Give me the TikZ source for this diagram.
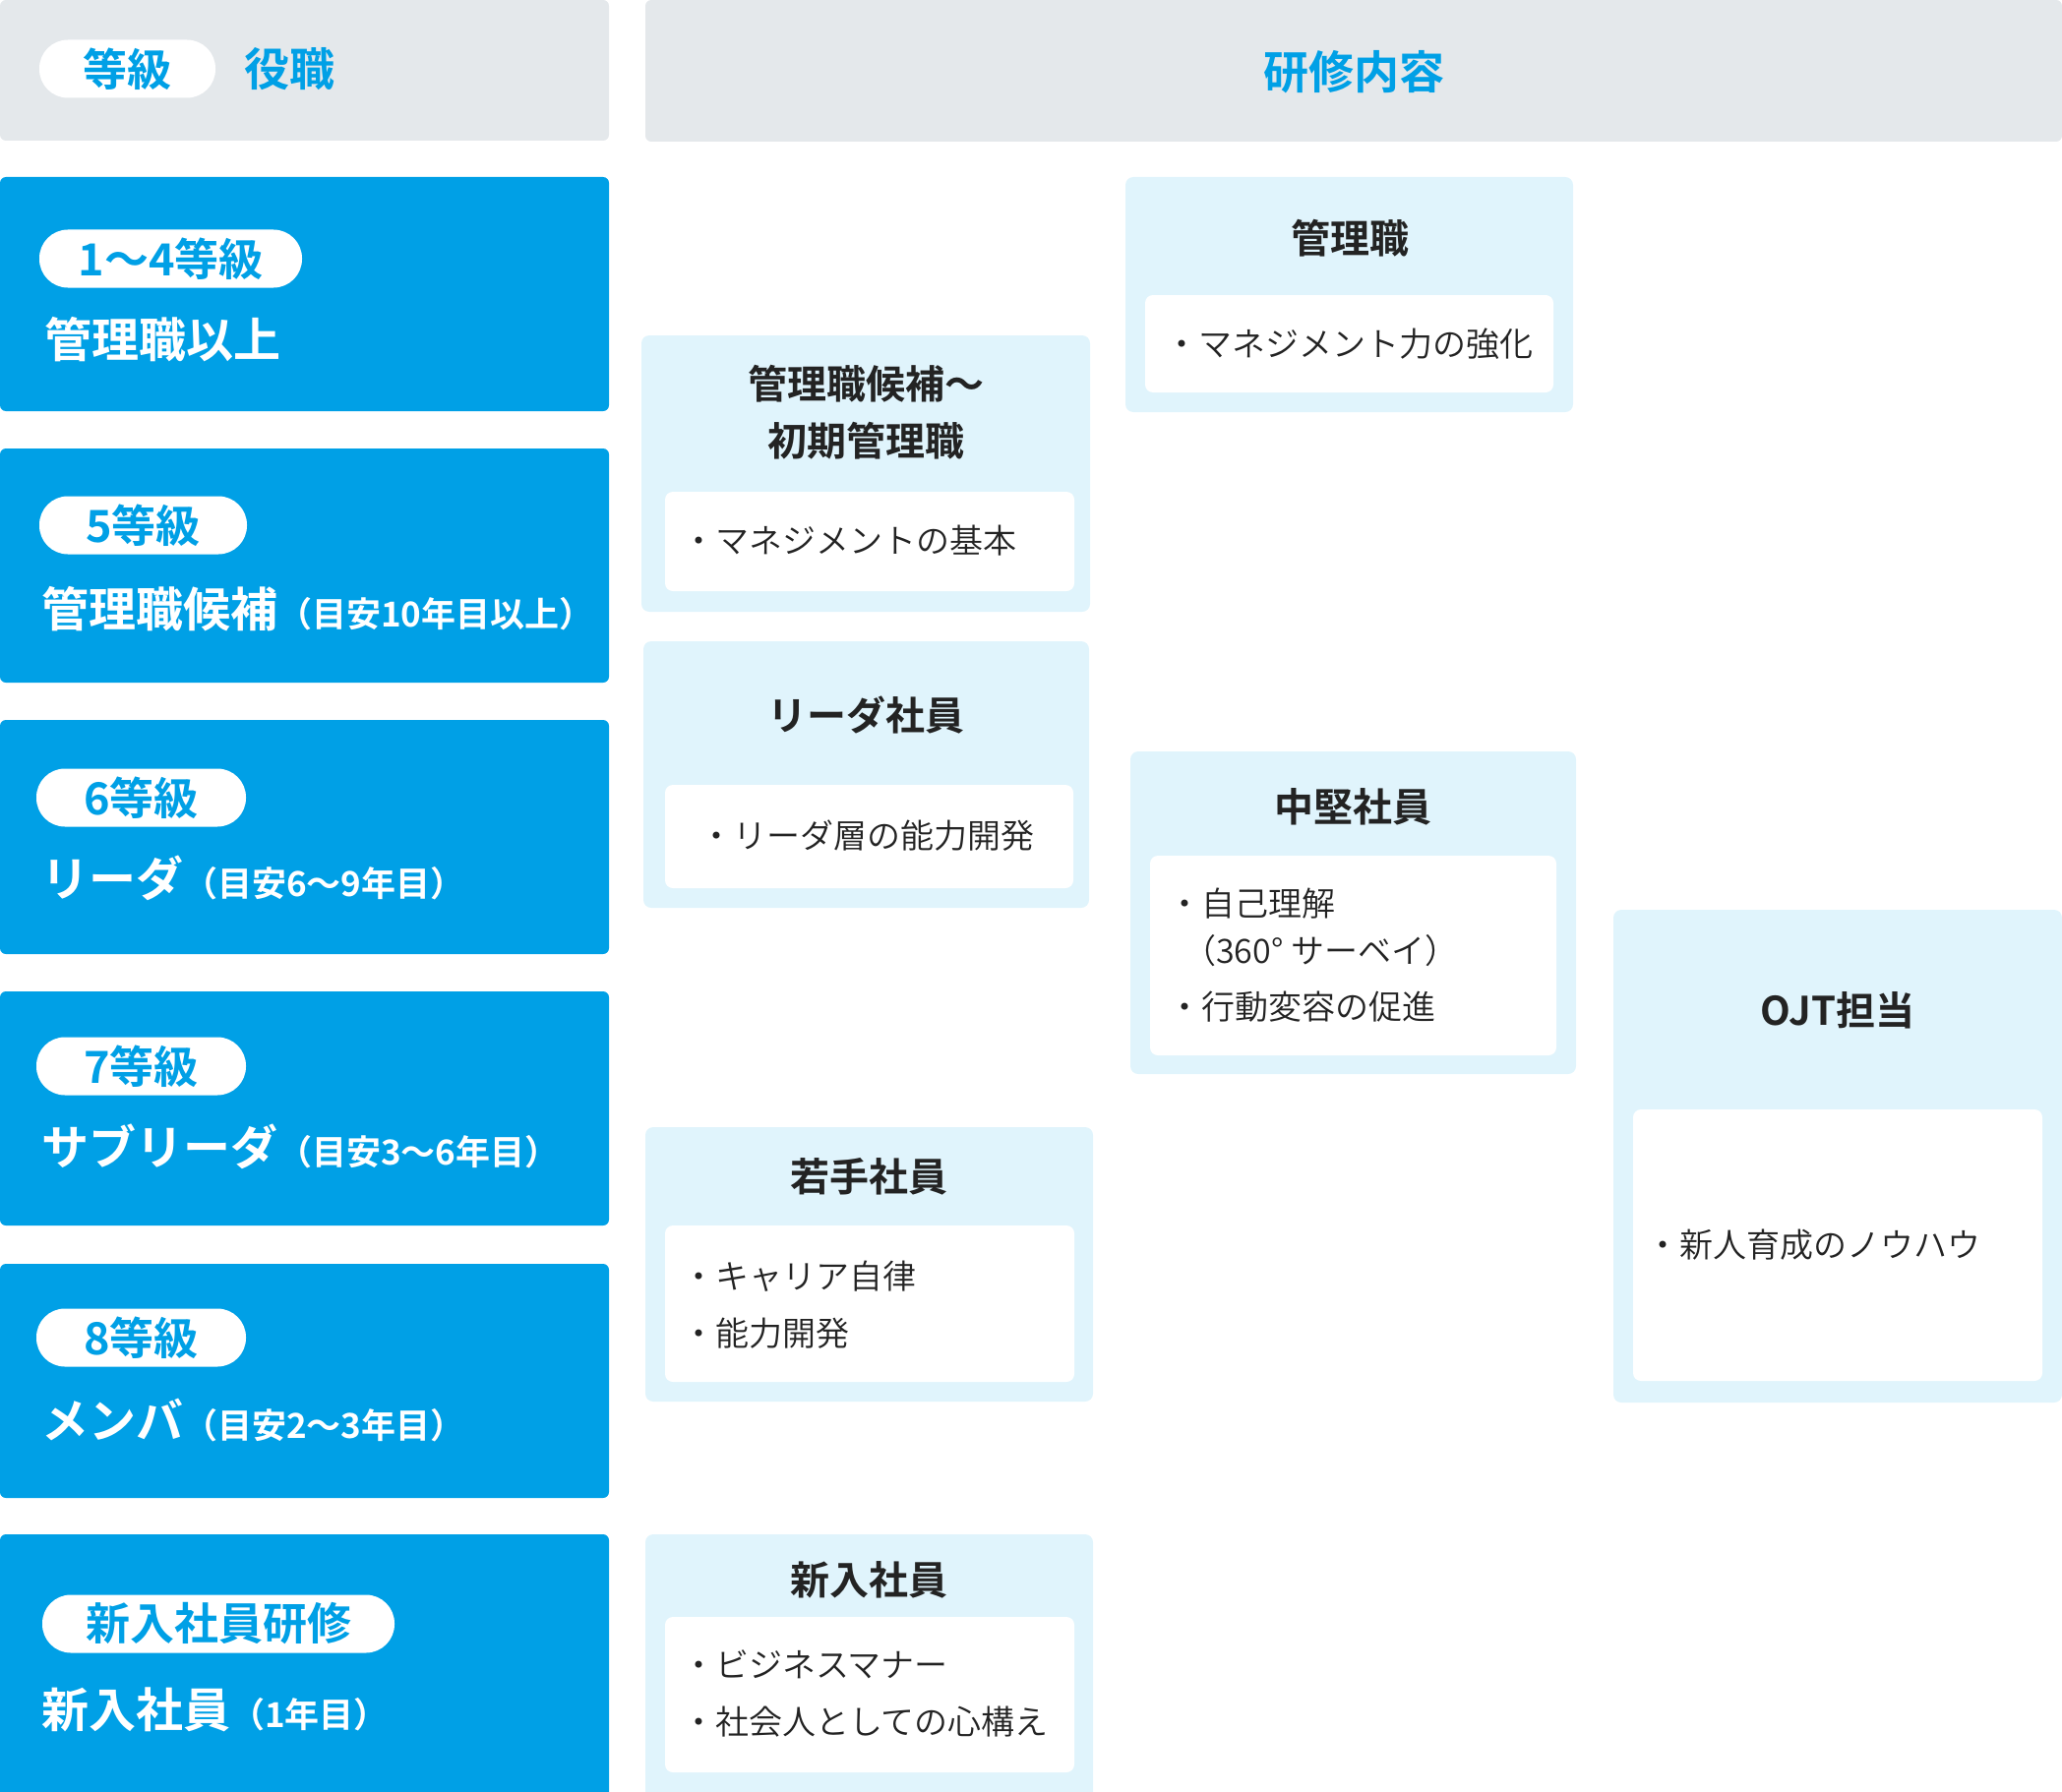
\documentclass[tikz,border=0pt]{standalone}
\usepackage{fontspec}
\setmainfont{Noto Sans CJK JP}[BoldFont={Noto Sans CJK JP Bold}]
\newfontfamily\lightjp{Noto Sans CJK JP DemiLight}
\usetikzlibrary{positioning}

\definecolor{gradeblue}{RGB}{0,160,230}
\definecolor{hdrgray}{RGB}{228,232,235}
\definecolor{coursebg}{RGB}{224,244,252}
\definecolor{ink}{RGB}{35,35,35}

\newcommand\yrs[1]{{\fontsize{35}{35}\selectfont #1}}

\begin{document}
\begin{tikzpicture}[
    x=1pt, y=-1pt,
    every node/.style={inner sep=0pt, outer sep=0pt},
    hdrbox/.style={fill=hdrgray, rounded corners=6pt, anchor=north west},
    gradebox/.style={fill=gradeblue, rounded corners=6pt, anchor=north west, minimum width=619pt, minimum height=238pt},
    pill/.style={fill=white, rounded corners=29pt, minimum height=59pt, anchor=west, text=gradeblue, font=\fontsize{45}{45}\selectfont\bfseries},
    role/.style={anchor=west, text=white, font=\fontsize{48}{48}\selectfont\bfseries},
    coursebox/.style={fill=coursebg, rounded corners=8pt, anchor=north west},
    itembox/.style={fill=white, rounded corners=8pt, anchor=north west},
    coursetitle/.style={text=ink, align=center, font=\fontsize{40}{58}\selectfont\bfseries},
    item/.style={anchor=west, text=ink, align=left, font=\lightjp\fontsize{34}{58}\selectfont}
]
\useasboundingbox (0,0) rectangle (2096,1822);
\clip (0,0) rectangle (2096,1822);

% Header
\node[hdrbox, minimum width=619pt, minimum height=143pt] (hdrleft) at (0,0) {};
\node[hdrbox, minimum width=1440pt, minimum height=144pt] (hdrright) at (656,0) {};
\node[pill, minimum width=179pt] (hdrgrade) at (40,70) {等級};
\node[anchor=west, text=gradeblue, font=\fontsize{46}{46}\selectfont\bfseries] (hdrrole) at (248,70) {役職};
\node[text=gradeblue, font=\fontsize{46}{46}\selectfont\bfseries] (hdrcourse) at (1376,73) {研修内容};

% Grades
\node[gradebox] (g1) at (0,180) {};
\node[gradebox] (g2) at (0,456) {};
\node[gradebox] (g3) at (0,732) {};
\node[gradebox] (g4) at (0,1008) {};
\node[gradebox] (g5) at (0,1285) {};
\node[gradebox, minimum height=280pt] (g6) at (0,1560) {};

\node[pill, minimum width=267pt] (p1) at (40,263) {1〜4等級};
\node[pill, minimum width=211pt] (p2) at (40,534) {5等級};
\node[pill, minimum width=213pt] (p3) at (37,811) {6等級};
\node[pill, minimum width=213pt] (p4) at (37,1084) {7等級};
\node[pill, minimum width=213pt] (p5) at (37,1360) {8等級};
\node[pill, minimum width=358pt] (p6) at (43,1651) {新入社員研修};

\node[role] (r1) at (45,345) {管理職以上};
\node[role] (r2) at (42,619) {管理職候補\yrs{（目安10年目以上）}};
\node[role] (r3) at (42,893) {リーダ\yrs{（目安6〜9年目）}};
\node[role] (r4) at (42,1166) {サブリーダ\yrs{（目安3〜6年目）}};
\node[role] (r5) at (42,1444) {メンバ\yrs{（目安2〜3年目）}};
\node[role] (r6) at (42,1738) {新入社員\yrs{（1年目）}};

% Courses
\node[coursebox, minimum width=456pt, minimum height=281pt] (mgrcand) at (652,341) {};
\node[itembox, minimum width=416pt, minimum height=101pt] (mgrcanditem) at (676,500) {};
\node[coursebox, minimum width=455pt, minimum height=239pt] (mgr) at (1144,180) {};
\node[itembox, minimum width=415pt, minimum height=99pt] (mgritem) at (1164,300) {};
\node[coursebox, minimum width=453pt, minimum height=271pt] (leader) at (654,652) {};
\node[itembox, minimum width=415pt, minimum height=105pt] (leaderitem) at (676,798) {};
\node[coursebox, minimum width=453pt, minimum height=328pt] (mid) at (1149,764) {};
\node[itembox, minimum width=413pt, minimum height=203pt] (miditem) at (1169,870) {};
\node[coursebox, minimum width=456pt, minimum height=501pt] (ojt) at (1640,925) {};
\node[itembox, minimum width=416pt, minimum height=276pt] (ojtitem) at (1660,1128) {};
\node[coursebox, minimum width=455pt, minimum height=279pt] (young) at (656,1146) {};
\node[itembox, minimum width=416pt, minimum height=159pt] (youngitem) at (676,1246) {};
\node[coursebox, minimum width=455pt, minimum height=280pt] (newhire) at (656,1560) {};
\node[itembox, minimum width=416pt, minimum height=158pt] (newhireitem) at (676,1644) {};

\node[coursetitle] (mgrcandttl) at (880,419) {管理職候補〜\\初期管理職};
\node[coursetitle] (mgrttl) at (1372,242) {管理職};
\node[coursetitle] (leaderttl) at (880,727) {リーダ社員};
\node[coursetitle] (midttl) at (1375,820) {中堅社員};
\node[coursetitle] (ojtttl) at (1868,1027) {OJT担当};
\node[coursetitle] (youngttl) at (883,1196) {若手社員};
\node[coursetitle] (newhirettl) at (883,1606) {新入社員};

\node[item] (mgrcandtxt) at (693,550) {・マネジメントの基本};
\node[item] (mgrtxt) at (1184,350) {・マネジメント力の強化};
\node[item] (leadertxt) at (711,850) {・リーダ層の能力開発};
\node[item, font=\lightjp\fontsize{34}{48}\selectfont] (midtxt) at (1187,971) {・自己理解\\\hspace*{0.45em}（360° サーベイ）\\[9pt]・行動変容の促進};
\node[item] (ojttxt) at (1673,1266) {・新人育成のノウハウ};
\node[item] (youngtxt) at (693,1327) {・キャリア自律\\・能力開発};
\node[item] (newhiretxt) at (693,1722) {・ビジネスマナー\\・社会人としての心構え};

\end{tikzpicture}
\end{document}
